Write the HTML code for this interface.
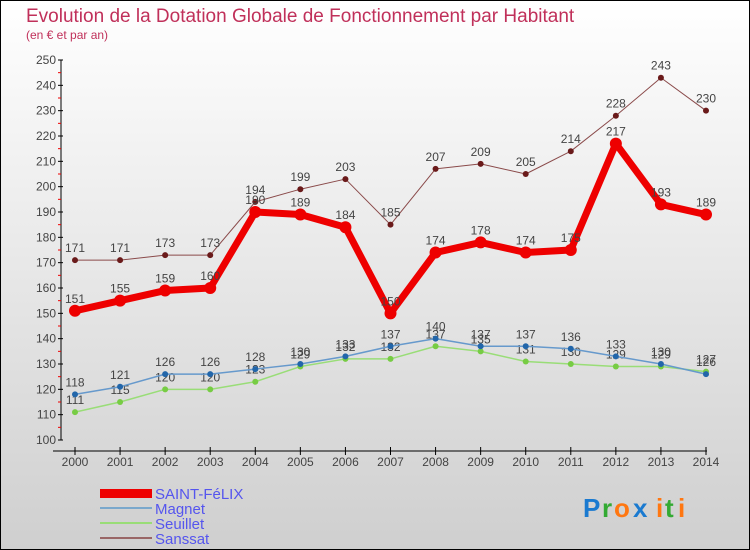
<!DOCTYPE html>
<html><head><meta charset="utf-8"><style>
html,body{margin:0;padding:0}
body{width:750px;height:550px;overflow:hidden;font-family:"Liberation Sans",sans-serif}
#c{position:absolute;left:0;top:0;width:748px;height:548px;border:1px solid #000;background:linear-gradient(#ffffff,#cfcfcf)}
</style></head><body>
<div id="c">
<svg id="s" width="750" height="550" style="position:absolute;left:-1px;top:-1px">
<text x="26" y="22" font-size="19" fill="#c0305a">Evolution de la Dotation Globale de Fonctionnement par Habitant</text>
<text x="26" y="39" font-size="12" fill="#c0305a">(en € et par an)</text>
<g id="axes"></g><g id="series"></g>
<g>
<rect x="100" y="489" width="52" height="9" fill="#e00"/>
<text x="155" y="499" font-size="15" fill="#5555ee">SAINT-FéLIX</text>
<rect x="100" y="507" width="52" height="2" fill="#7aa8cc"/>
<text x="155" y="514" font-size="15" fill="#5555ee">Magnet</text>
<rect x="100" y="522" width="52" height="2" fill="#99dd77"/>
<text x="155" y="529" font-size="15" fill="#5555ee">Seuillet</text>
<rect x="100" y="537" width="52" height="2" fill="#996666"/>
<text x="155" y="544" font-size="15" fill="#5555ee">Sanssat</text>
</g>
<g font-size="26" font-weight="bold">
<text x="583" y="517" fill="#1a7ad0">P</text><text x="602" y="517" fill="#33aa33">r</text><text x="614" y="517" fill="#ff7711">o</text><text x="633" y="517" fill="#1a7ad0">x</text><text x="656" y="517" fill="#ff7711">i</text><text x="665" y="517" fill="#33aa33">t</text><text x="678" y="517" fill="#ff7711">i</text>
</g>
</svg></div>
<script>
const years=[2000,2001,2002,2003,2004,2005,2006,2007,2008,2009,2010,2011,2012,2013,2014];
const saintFelix=[151,155,159,160,190,189,184,150,174,178,174,175,217,193,189];
const magnet=[118,121,126,126,128,130,133,137,140,137,137,136,133,130,126];
const seuillet=[111,115,120,120,123,129,132,132,137,135,131,130,129,129,127];
const sanssat=[171,171,173,173,194,199,203,185,207,209,205,214,228,243,230];
const yTicks=[100,110,120,130,140,150,160,170,180,190,200,210,220,230,240,250];
const NS="http://www.w3.org/2000/svg";
function X(i){return 75+i*(706-75)/(years.length-1);}
function Y(v){return 440-(v-100)*(380/150);}
function mk(t,a,p){const e=document.createElementNS(NS,t);for(const k in a)e.setAttribute(k,a[k]);p.appendChild(e);return e;}
const ax=document.getElementById('axes');
mk('line',{x1:61,y1:60,x2:61,y2:440,stroke:'#000'},ax);
mk('line',{x1:53,y1:451,x2:707,y2:451,stroke:'#000'},ax);
yTicks.forEach(v=>{
 mk('line',{x1:58,y1:Y(v),x2:63,y2:Y(v),stroke:'#000'},ax);
 if(v<250)mk('line',{x1:58,y1:Y(v+5),x2:61,y2:Y(v+5),stroke:'#e00'},ax);
 const t=mk('text',{x:56,y:Y(v)+4,'text-anchor':'end','font-size':12,fill:'#444'},ax);t.textContent=v;
 
 
});
years.forEach((y,i)=>{
 mk('line',{x1:X(i),y1:447,x2:X(i),y2:455,stroke:'#000'},ax);
 const t=mk('text',{x:X(i),y:466,'text-anchor':'middle','font-size':12,fill:'#444'},ax);t.textContent=y;
 
 
});
const sg=document.getElementById('series');
function draw(name,data,color,w,r,dot,lab){
 const g=mk('g',{},sg);
 
 
 mk('polyline',{points:data.map((v,i)=>X(i)+','+Y(v)).join(' '),fill:'none',stroke:color,'stroke-width':w,'stroke-linejoin':'round'},g);
 data.forEach((v,i)=>{
  const c=mk('circle',{cx:X(i),cy:Y(v),r:r,fill:dot},g);
  
  
  const t=mk('text',{x:X(i),y:Y(v)-8,'text-anchor':'middle','font-size':12,fill:lab},g);t.textContent=v;
  
  
 });
}
draw('sanssat',sanssat,'#8a4a4a',1,3,'#6a1a1a','#444');
draw('seuillet',seuillet,'#99dd77',1.5,3,'#77cc44','#444');
draw('magnet',magnet,'#6699cc',1.5,3,'#2266aa','#444');
draw('saint-felix',saintFelix,'#ee0000',7,6,'#ee0000','#444');
</script>
</body></html>
